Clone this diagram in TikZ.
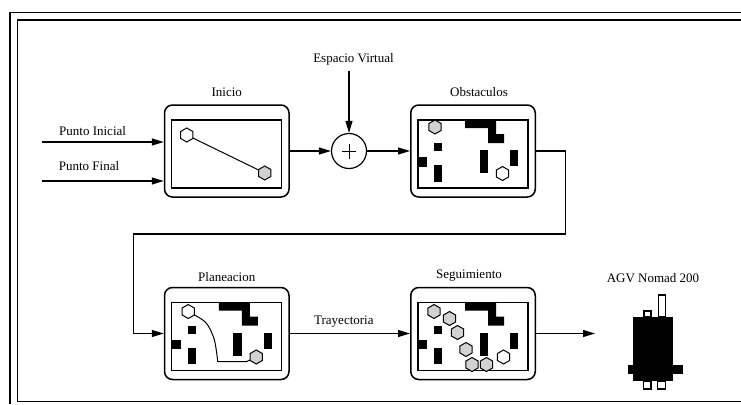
\documentclass[tikz,border=0pt]{standalone}
\usepackage{fontspec}
\setmainfont{Liberation Serif}
\usetikzlibrary{arrows.meta, positioning, calc}

\tikzset{
    screen/.style={draw, rounded corners=8pt, line width=1.5pt,
        minimum width=124.5pt, minimum height=92pt, inner sep=0pt},
    lbl/.style={inner sep=0pt, font=\fontsize{13}{15}\selectfont},
    flow/.style={line width=1.2pt, -{Triangle[length=12pt,width=7pt]}},
    cell/.style={draw, line width=1pt, fill=white},
    visited/.style={cell, fill=gray!35},
}

% hexagon cell of the map, centred at (#2,#3)
\newcommand{\hexcell}[3][cell]{%
    \draw[#1, shift={(#2,#3)}] (0,-7) -- (6.06,-3.5) -- (6.06,3.5) -- (0,7)
        -- (-6.06,3.5) -- (-6.06,-3.5) -- cycle;}

% inner screen of a block
\newcommand{\mapgrid}{%
    \draw[line width=1.4pt] (-55,-31) rectangle (55,37);}

% obstacles of the work space
\newcommand{\obstacles}{%
    \fill (-8,-31) -- (23,-31) -- (23,-17) -- (31,-17) -- (31,-8) -- (15,-8)
        -- (15,-23) -- (-8,-23) -- cycle;
    \fill (-39,-8) rectangle (-31,0);
    \fill (-55,6) rectangle (-46,15.5);
    \fill (-39,14) rectangle (-31,30.5);
    \fill (6.7,-1) rectangle (15.2,22.3);
    \fill (37.4,-1) rectangle (45.4,15);}

\begin{document}
\begin{tikzpicture}[x=1pt, y=-1pt]
    \useasboundingbox (0,0) rectangle (741,404);

    % double frame
    \draw[line width=1.6pt] (741,12.5) -- (10,12.5) -- (10,404);
    \draw[line width=1.6pt] (741,20) -- (17.5,20) -- (17.5,401.5) -- (741,401.5);

    \node[screen] (ini) at (226.75,151) {};
    \node[screen] (obs) at (473,151) {};
    \node[screen] (plan) at (226.75,333.5) {};
    \node[screen] (seg) at (473,333.5) {};
    \node[draw, circle, line width=1.2pt, minimum size=35pt, inner sep=0pt] (sum) at (349,151) {};
    \draw[line width=1pt] (sum.center) ++(-7,0) -- ++(14,0)
        (sum.center) ++(0,-7.5) -- ++(0,15);

    \node[lbl, above=7pt of ini] (iniL) {Inicio};
    \node[lbl, above=7pt of obs, xshift=6pt] (obsL) {Obstaculos};
    \node[lbl, above=5pt of plan] (planL) {Planeacion};
    \node[lbl, above=5pt of seg, xshift=-4pt] (segL) {Seguimiento};
    \node[lbl] (evL) at (353.5,59) {Espacio Virtual};
    \node[lbl] (piL) at (92.6,131) {Punto Inicial};
    \node[lbl] (pfL) at (89,166) {Punto Final};
    \node[lbl] (agvL) at (653,278) {AGV Nomad 200};

    \coordinate (piS) at (41.5,142);
    \coordinate (pfS) at (41.5,181);
    \coordinate (turnR) at (565.7,234);
    \coordinate (turnL) at (133.7,234);
    \coordinate (agvIn) at (595,333.5);

    \draw[flow] (piS) -- (piS -| ini.west);
    \draw[flow] (pfS) -- (pfS -| ini.west);
    \draw[flow] (ini) -- (sum);
    \draw[flow] (sum |- evL.south) ++(0,6) -- (sum.north);
    \draw[flow] (sum) -- (obs);
    \draw[flow] (obs.east) -| (turnR) -- (turnL) |- (plan.west);
    \draw[flow] (plan) -- node[lbl, above=6pt, xshift=-6pt] (trL) {Trayectoria} (seg);
    \draw[flow] (seg.east) -- (agvIn);

    \begin{scope}[shift={(ini.center)}]
        \mapgrid
        \draw[line width=1pt] (-40,-16) -- (38,22);
        \hexcell{-40}{-16}
        \hexcell[visited]{38}{22}
    \end{scope}

    \begin{scope}[shift={(obs.center)}]
        \mapgrid
        \obstacles
        \hexcell[visited]{-38}{-24}
        \hexcell{29.5}{22.5}
    \end{scope}

    \begin{scope}[shift={(plan.center)}]
        \mapgrid
        \obstacles
        \draw[line width=1pt] plot[smooth, tension=0.5] coordinates
            {(-38.5,-22) (-21,-11) (-12.5,6) (-9,28)} -- (20,28) -- (29.5,23.5);
        \hexcell{-38.5}{-22}
        \hexcell[visited]{29.5}{23.5}
    \end{scope}

    \begin{scope}[shift={(seg.center)}]
        \mapgrid
        \obstacles
        \foreach \hx/\hy in {-39/-22, -23.5/-15, -15.5/-1, -7/16, -1/31, 13.5/31}
            {\hexcell[visited]{\hx}{\hy}}
        \hexcell{30.5}{23.5}
    \end{scope}

    % the robot
    \fill (633,317) rectangle (673,381);
    \fill (627.5,365) rectangle (683,373.5);
    \draw[line width=1.5pt, fill=white] (644,311) rectangle (651,317);
    \draw[line width=1.5pt, fill=white] (658.5,295) rectangle (665.5,317);
    \draw[line width=1.5pt, fill=white] (643.5,381) rectangle (651,389);
    \draw[line width=1.5pt, fill=white] (657.5,381) rectangle (665.5,389);
\end{tikzpicture}
\end{document}
